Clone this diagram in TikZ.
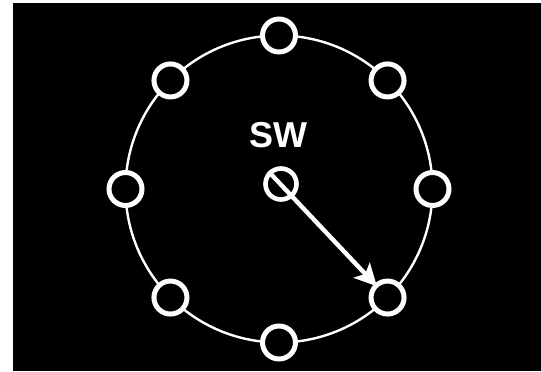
\documentclass[tikz,border=0pt]{standalone}
\usepackage{fontspec}
\setmainfont{Liberation Sans}
\usetikzlibrary{arrows.meta,calc}
\tikzset{
  panel/.style={fill=black, draw=none},
  ring/.style={draw=white, line width=2.4pt},
  port/.style={circle, draw=white, line width=5pt, minimum size=33pt, inner sep=0pt},
  hub/.style={port, line width=4.6pt, minimum size=31pt},
  wire/.style={-{Stealth[length=22pt, width=22pt, inset=5pt]}, draw=white, line width=4.4pt, shorten >=-3.5pt},
  lbl/.style={text=white, font=\bfseries\fontsize{36}{38}\selectfont, inner sep=0pt},
}
\begin{document}
\begin{tikzpicture}[x=1pt, y=1pt]
  \useasboundingbox (0,0) rectangle (541,372);
  \fill[white] (0,0) rectangle (541,372);
  \path[panel] (13,1) rectangle (541,369);
  \coordinate (mid) at (279,183);
  \draw[ring] (mid) circle (153.5);
  % eight ports round the ring
  \foreach \a in {0,45,...,315}
    \node[port, fill=black] (p\a) at ($(mid)+(\a:153.5)$) {};
  \node[hub] (c) at (281,188) {};
  \node[lbl] (sw) at (278,237) {SW};
  \draw[wire] (c.135) -- (p315);
\end{tikzpicture}
\end{document}
